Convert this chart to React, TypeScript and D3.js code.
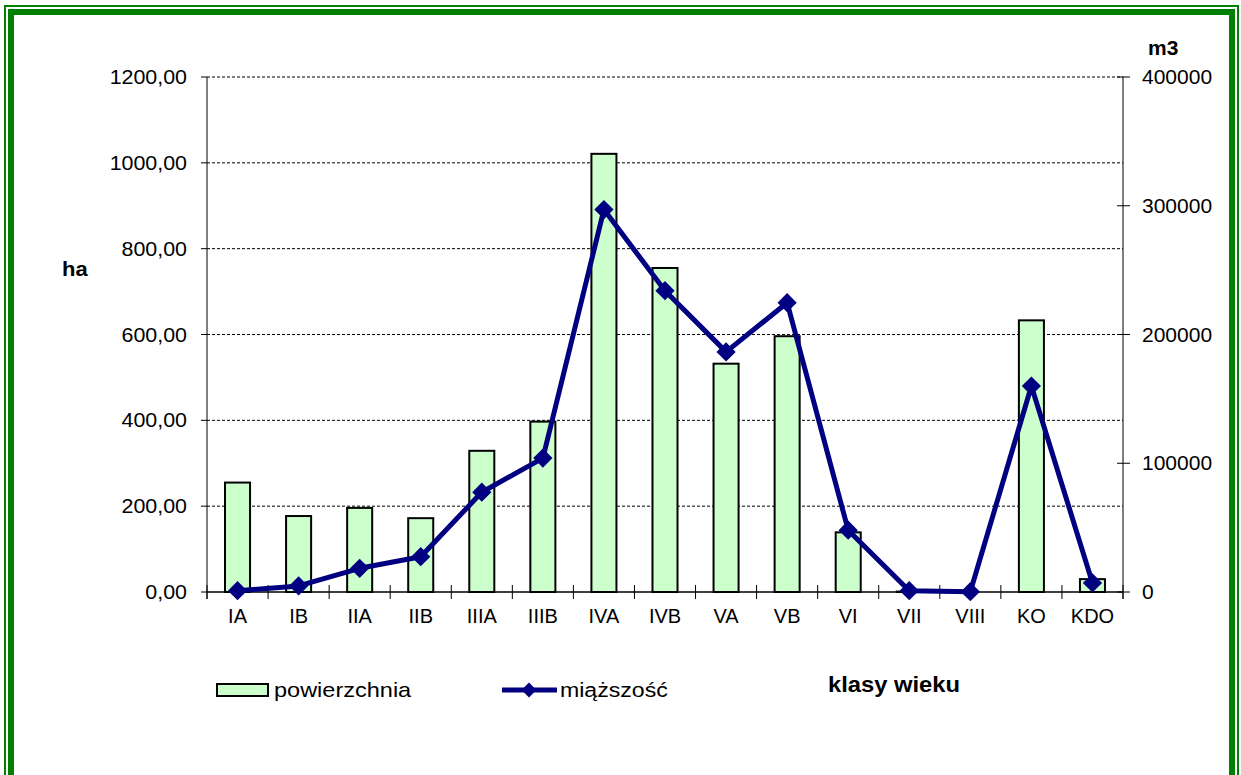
import React from "react";
import * as d3 from "d3";

const categories = ["IA", "IB", "IIA", "IIB", "IIIA", "IIIB", "IVA", "IVB", "VA", "VB", "VI", "VII", "VIII", "KO", "KDO"];
const powierzchnia = [255, 177, 196, 172, 329, 397, 1021, 755, 532, 596, 139, 1, 0, 633, 30];
const miazszosc = [1000, 4700, 18400, 27400, 77500, 104000, 297000, 234000, 186500, 224700, 48000, 1000, 200, 160000, 7000];
const leftTicks = [0, 200, 400, 600, 800, 1000, 1200];
const rightTicks = [0, 100000, 200000, 300000, 400000];

const W = 1241;
const H = 775;
const plot = { left: 207, right: 1123, top: 77, bottom: 592 };
const FONT = "'Liberation Sans', Arial, sans-serif";
const GREEN = "#008000";
const NAVY = "#000080";

function T(props: { x: number; y: number; sx?: number; size: number; anchor?: string; bold?: boolean; children: React.ReactNode }) {
  const { x, y, sx = 1, size, anchor = "start", bold = false, children } = props;
  return (
    <g transform={`translate(${x},${y}) scale(${sx},1)`}>
      <text x={0} y={0} fontSize={size} textAnchor={anchor as any} fontWeight={bold ? "bold" : "normal"} fill="#000">
        {children}
      </text>
    </g>
  );
}

export default function App() {
  const x = d3.scaleBand<string>().domain(categories).range([plot.left, plot.right]).padding(0);
  const yL = d3.scaleLinear().domain([0, 1200]).range([plot.bottom, plot.top]);
  const yR = d3.scaleLinear().domain([0, 400000]).range([plot.bottom, plot.top]);
  const bw = x.bandwidth() * 0.41;
  const cx = (c: string) => (x(c) as number) + x.bandwidth() / 2;
  const line = d3
    .line<number>()
    .x((_, i) => cx(categories[i]))
    .y((d) => yR(d));
  const diamond = d3.symbol().type(d3.symbolSquare).size(185)();
  const fmtL = (v: number) => v.toFixed(2).replace(".", ",");
  const boundaries = categories.map((c) => x(c) as number).concat([plot.right]);

  return (
    <div style={{ position: "absolute", left: 0, top: 0 }}>
      <svg width={W} height={H} style={{ display: "block", background: "#fff" }} fontFamily={FONT}>
        {/* frame */}
        <rect x={5} y={6} width={1233} height={800} fill="none" stroke={GREEN} strokeWidth={2} />
        <rect x={11} y={12} width={1221} height={800} fill="none" stroke={GREEN} strokeWidth={6} />

        {/* gridlines */}
        {leftTicks.filter((t) => t > 0).map((t) => (
          <line key={"g" + t} x1={plot.left} x2={plot.right} y1={yL(t)} y2={yL(t)} stroke="#000" strokeWidth={1} strokeDasharray="3,2" />
        ))}

        {/* bars */}
        {categories.map((c, i) => (
          <rect
            key={"b" + c}
            x={cx(c) - bw / 2}
            y={yL(powierzchnia[i])}
            width={bw}
            height={plot.bottom - yL(powierzchnia[i])}
            fill="#CCFFCC"
            stroke="#000"
            strokeWidth={2}
          />
        ))}

        {/* axes */}
        <line x1={plot.left} x2={plot.left} y1={plot.top} y2={plot.bottom + 7} stroke="#000" strokeWidth={1} />
        <line x1={plot.right} x2={plot.right} y1={plot.top} y2={plot.bottom + 7} stroke="#000" strokeWidth={1} />
        <line x1={plot.left} x2={plot.right} y1={plot.bottom} y2={plot.bottom} stroke="#000" strokeWidth={1.5} />
        {leftTicks.map((t) => (
          <g key={"lt" + t}>
            <line x1={plot.left - 6} x2={plot.left} y1={yL(t)} y2={yL(t)} stroke="#000" />
            <T x={187} y={yL(t) + 7} size={20} sx={1.07} anchor="end">
              {fmtL(t)}
            </T>
          </g>
        ))}
        {rightTicks.map((t) => (
          <g key={"rt" + t}>
            <line x1={plot.right - 6} x2={plot.right + 7} y1={yR(t)} y2={yR(t)} stroke="#000" />
            <T x={1142} y={yR(t) + 7} size={20} sx={1.05}>
              {t}
            </T>
          </g>
        ))}
        {boundaries.map((b, i) => (
          <line key={"ct" + i} x1={b} x2={b} y1={plot.bottom - 7} y2={plot.bottom + 7} stroke="#000" />
        ))}
        {categories.map((c) => (
          <T key={"cl" + c} x={cx(c)} y={623} size={20} anchor="middle">
            {c}
          </T>
        ))}

        {/* line series */}
        <path d={line(miazszosc) || ""} fill="none" stroke={NAVY} strokeWidth={5} strokeLinejoin="round" />
        {categories.map((c, i) => (
          <path key={"m" + c} d={diamond || ""} transform={`translate(${cx(c)},${yR(miazszosc[i])}) rotate(45)`} fill={NAVY} />
        ))}

        {/* axis titles */}
        <T x={62} y={276} size={20} bold sx={1.1}>ha</T>
        <T x={1148} y={55} size={20} bold sx={1.05}>m3</T>
        <T x={828} y={692} size={22} bold sx={1.08}>klasy wieku</T>

        {/* legend */}
        <rect x={217} y={684} width={51} height={12} fill="#CCFFCC" stroke="#000" strokeWidth={2} />
        <T x={274} y={697} size={21} sx={1.12}>powierzchnia</T>
        <line x1={502} x2={557} y1={690} y2={690} stroke={NAVY} strokeWidth={5} />
        <path d={d3.symbol().type(d3.symbolSquare).size(110)() || ""} transform="translate(529,690) rotate(45)" fill={NAVY} />
        <T x={560} y={697} size={21} sx={1.1}>miąższość</T>
      </svg>
    </div>
  );
}
